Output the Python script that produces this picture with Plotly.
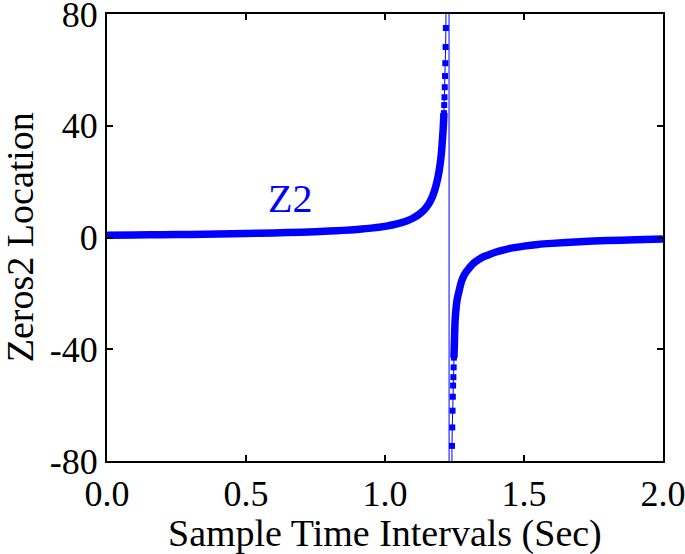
import plotly.graph_objects as go

# Left branch (before the pole)
t_left = [0.00, 0.10, 0.20, 0.30, 0.40, 0.50, 0.60, 0.70, 0.80, 0.85, 0.90, 0.95,
          1.00, 1.03, 1.06, 1.08, 1.10, 1.12, 1.14, 1.15, 1.16, 1.17, 1.18, 1.19,
          1.195, 1.200, 1.204, 1.207, 1.210, 1.212,
          1.213, 1.214, 1.215, 1.216, 1.217, 1.218, 1.219,
          1.222, 1.225, 1.228, 1.230]
z_left = [0.8, 0.9, 1.0, 1.1, 1.25, 1.45, 1.65, 1.9, 2.3, 2.55, 2.9, 3.35,
          4.0, 4.55, 5.3, 6.0, 6.9, 8.1, 9.8, 11.0, 12.5, 14.5, 17.3, 21.3,
          24.0, 27.5, 31.5, 35.5, 40.0, 44.5,
          47.4, 50.2, 53.8, 57.8, 62.4, 68.2, 75.0,
          92.0, 135.0, 270.0, 830.0]

# Right branch (after the pole)
t_right = [1.231, 1.234, 1.237, 1.240,
           1.241, 1.242, 1.243, 1.244, 1.245, 1.246, 1.247,
           1.248, 1.250, 1.252, 1.256, 1.260, 1.267, 1.275, 1.285, 1.292, 1.300,
           1.310, 1.320, 1.335, 1.350, 1.365, 1.378, 1.400, 1.425, 1.450, 1.500,
           1.550, 1.600, 1.700, 1.800, 1.900, 2.000]
z_right = [-830.0, -270.0, -135.0, -92.0,
           -74.6, -68.0, -62.0, -57.0, -53.0, -50.0, -46.5,
           -43.0, -36.5, -30.0, -25.0, -22.0, -18.9, -15.8, -13.4, -12.3, -11.3,
           -10.1, -9.1, -8.0, -7.1, -6.5, -6.0, -5.2, -4.5, -3.9, -3.1,
           -2.5, -2.1, -1.5, -1.1, -0.8, -0.5]

x_ticks = [0.0, 0.5, 1.0, 1.5, 2.0]
x_labels = ["0.0", "0.5", "1.0", "1.5", "2.0"]
y_ticks = [-80, -40, 0, 40, 80]
y_labels = ["-80", "-40", "0", "40", "80"]

BLUE = "#0000FF"
FONT = "Liberation Serif"
dense_limit = 45.0
marker_limit = 80.0

t_all = t_left + t_right
z_all = z_left + z_right

fig = go.Figure()

# thin connecting line through all samples
fig.add_trace(go.Scatter(x=t_all, y=z_all, mode="lines",
                         line=dict(color=BLUE, width=1), hoverinfo="skip",
                         showlegend=False, cliponaxis=True))

# dense (thick) part of each branch
for tb, zb in ((t_left, z_left), (t_right, z_right)):
    td = [t for t, z in zip(tb, zb) if abs(z) <= dense_limit]
    zd = [z for t, z in zip(tb, zb) if abs(z) <= dense_limit]
    fig.add_trace(go.Scatter(x=td, y=zd, mode="lines",
                             line=dict(color=BLUE, width=7.5, shape="spline", smoothing=0.5),
                             showlegend=False))

# sparse square markers near the pole
tm = [t for t, z in zip(t_all, z_all) if dense_limit - 2 <= abs(z) <= marker_limit]
zm = [z for t, z in zip(t_all, z_all) if dense_limit - 2 <= abs(z) <= marker_limit]
fig.add_trace(go.Scatter(x=tm, y=zm, mode="markers",
                         marker=dict(color=BLUE, symbol="square", size=6, line=dict(width=0)),
                         showlegend=False))

fig.add_annotation(x=0.66, y=14.0, text="Z2", showarrow=False,
                   font=dict(family=FONT, size=40, color=BLUE))

# axis titles placed as annotations
fig.add_annotation(xref="paper", yref="paper", x=0.5, y=-0.163,
                   text="Sample Time Intervals (Sec)", showarrow=False,
                   xanchor="center", yanchor="middle",
                   font=dict(family=FONT, size=38, color="black"))
fig.add_annotation(xref="paper", yref="paper", x=-0.157, y=0.5,
                   text="Zeros2 Location", showarrow=False, textangle=-90,
                   xanchor="center", yanchor="middle",
                   font=dict(family=FONT, size=38, color="black"))

axis_common = dict(showline=True, linecolor="black", linewidth=2, mirror="ticks",
                   ticks="inside", ticklen=6, tickwidth=2, tickcolor="black",
                   showgrid=False, zeroline=False, automargin=False,
                   ticklabeloverflow="allow",
                   tickfont=dict(family=FONT, size=36, color="black"))

fig.update_xaxes(range=[-0.0001, 2.0001], tickvals=x_ticks, ticktext=x_labels,
                 **axis_common)
fig.update_yaxes(range=[-80.01, 80.01], tickvals=y_ticks, ticktext=y_labels,
                 **axis_common)

fig.update_layout(width=685, height=554,
                  margin=dict(l=107, r=22, t=14, b=93),
                  paper_bgcolor="white", plot_bgcolor="white")

fig.write_html("out.html", config={"displayModeBar": False},
               post_script="document.body.style.margin='0';document.body.style.padding='0';")
